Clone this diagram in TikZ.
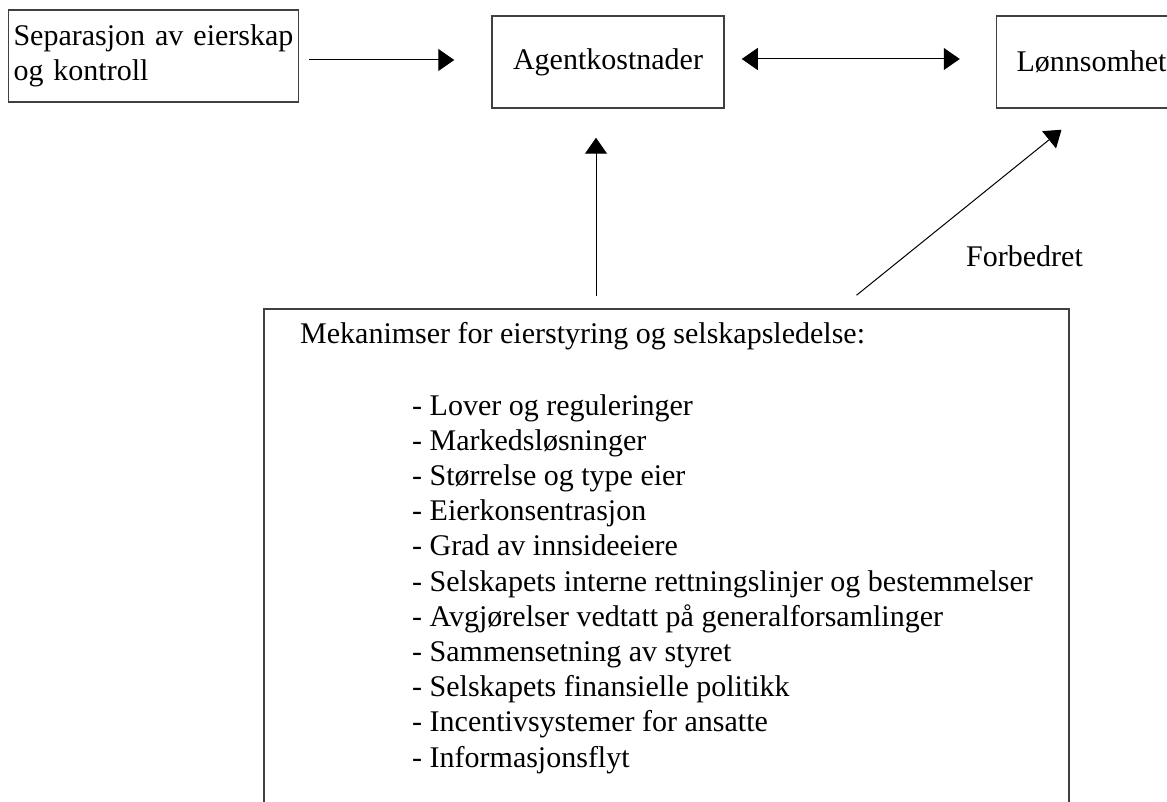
\documentclass[tikz,border=0pt]{standalone}
\usepackage{fontspec}
\setmainfont{Liberation Serif}
\usetikzlibrary{arrows.meta}
\usetikzlibrary{positioning}

\begin{document}
\begin{tikzpicture}[x=1pt, y=-1pt,
    every node/.style={font=\fontsize{30}{35.2}\selectfont, inner sep=0pt},
    >={Triangle[length=16pt,width=22pt]},
    boks/.style={draw=black!75, line width=1.5pt},
    link/.style={line width=1pt, ->}]
          \useasboundingbox (0,0) rectangle (1167,802);
          \clip (0,0) rectangle (1167,802);

          \node[boks, minimum width=232pt, minimum height=92pt] (agent) at (608,62) {Agentkostnader};
          \node[boks, minimum width=290pt, minimum height=92pt, text width=280pt, align=left,
                left=192pt of agent, yshift=6pt] (sep) {Separasjon av eierskap\\og kontroll};
          \node[boks, minimum width=190pt, minimum height=92pt, right=271pt of agent] (lonn) {Lønnsomhet};
          \node[boks, minimum width=805pt, minimum height=521pt] (mek) at (666.5,569.5) {};

          \node[anchor=base west] (title) at (300,343) {Mekanimser for eierstyring og selskapsledelse:};
          \foreach \txt [count=\i from 0] in {Lover og reguleringer, Markedsløsninger,
              Størrelse og type eier, Eierkonsentrasjon, Grad av innsideeiere,
              Selskapets interne rettningslinjer og bestemmelser,
              Avgjørelser vedtatt på generalforsamlinger, Sammensetning av styret,
              Selskapets finansielle politikk, Incentivsystemer for ansatte, Informasjonsflyt}
            \node[anchor=base west] (item\i) at (412,415+35.2*\i) {- \txt};

          \node[anchor=base west] (forb) at (966,267) {Forbedret};

          \draw[link, shorten <=10pt, shorten >=37pt]
            ([yshift=-4pt]sep.east) -- ([yshift=-4pt]sep.east -| agent.west);
          \draw[link, <->, shorten <=17pt, shorten >=36pt]
            ([yshift=3pt]agent.east) -- ([yshift=3pt]lonn.west);
          \draw[link, shorten <=12pt, shorten >=29pt]
            ([xshift=-12pt]agent.south |- mek.north) -- ([xshift=-12pt]agent.south);
          \draw[link]
            ([xshift=190pt,yshift=13pt]mek.north) -- ([xshift=-30pt,yshift=-21pt]lonn.south);
        \end{tikzpicture}
\end{document}
